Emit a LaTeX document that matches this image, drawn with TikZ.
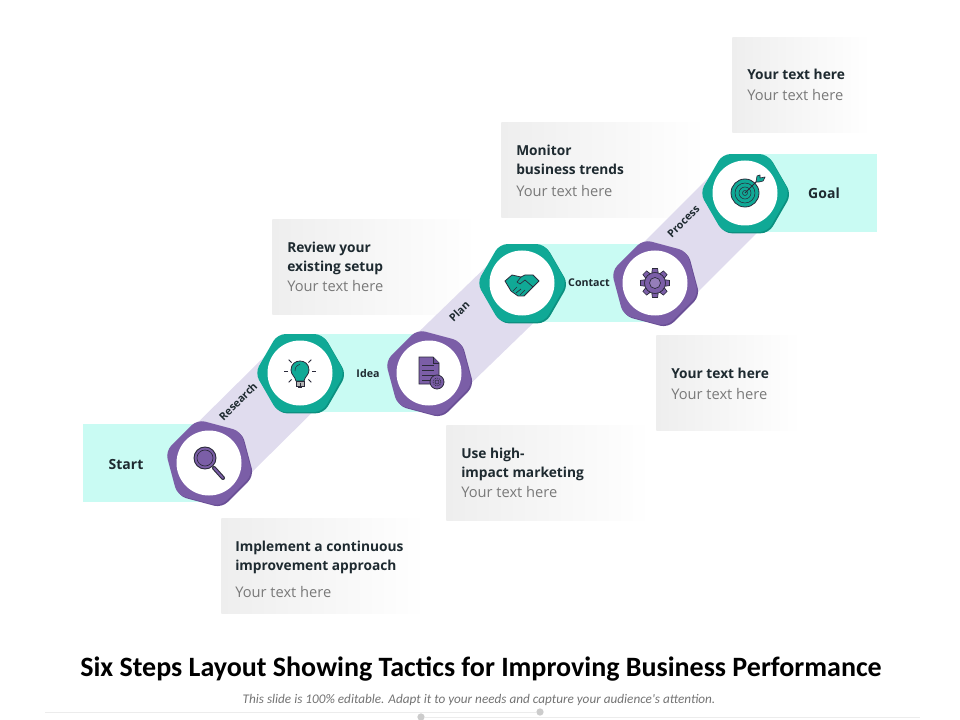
\documentclass[tikz,border=0pt]{standalone}
\usepackage{fontspec}
\setmainfont{Open Sans}
\newfontfamily\titlefont{Carlito}
\usetikzlibrary{shapes.geometric, shadows, backgrounds}
\definecolor{bandcyan}{HTML}{C9FBF3}
\definecolor{lilac}{HTML}{E0DCEE}
\definecolor{stepteal}{HTML}{10A996}
\definecolor{tealdark}{HTML}{0C9080}
\definecolor{steppurple}{HTML}{7B5EA7}
\definecolor{purpledark}{HTML}{6A4F96}
\definecolor{ink}{HTML}{1E2A30}
\definecolor{notegray}{HTML}{EEEEEE}
\definecolor{iconline}{HTML}{2B2A3A}
\tikzset{
    lens/.pic={
      \draw[iconline, line width=3pt, line cap=round] (5,5) -- (14,15);
      \draw[steppurple, line width=1.4pt, line cap=round] (5,5) -- (14,15);
      \draw[iconline, fill=steppurple, line width=.7pt] (-4,-5) circle (11);
      \draw[iconline, line width=.5pt] (-4,-5) circle (8);
    },
    bulb/.pic={
      \draw[iconline, fill=stepteal, line width=.6pt] (-4,8) .. controls (-5,3) and (-9,2) .. (-9,-3) .. controls (-9,-15) and (9,-15) .. (9,-3) .. controls (9,2) and (5,3) .. (4,8) -- cycle;
      \draw[iconline, fill=gray!60, line width=.5pt] (-4,8) rectangle (4,13);
      \fill[iconline] (-2,13) rectangle (2,15);
      \draw[iconline, line width=.4pt] (-5,-2) .. controls (-5,-6) and (-3,-8) .. (0,-9);
      \foreach \a in {0,45,90,135,180,225,315}
        \draw[iconline, line width=.6pt] (\a:12) ++(0,-2) -- ++(\a:4);
    },
    report/.pic={
      \draw[iconline, fill=steppurple, line width=.6pt] (-10,-16) -- (4,-16) -- (10,-10) -- (10,11) -- (-10,11) -- cycle;
      \draw[iconline, fill=purpledark, line width=.4pt] (4,-16) -- (4,-10) -- (10,-10);
      \foreach \y in {-8,-3,2,7}
        \draw[iconline, line width=.5pt] (-7,\y) -- (5,\y);
      \draw[iconline, fill=steppurple, line width=.6pt] (8,9) circle (7);
      \draw[iconline, line width=.4pt, dash pattern=on 1pt off .7pt] (8,9) circle (4);
      \draw[iconline, line width=.4pt] (8,9) circle (2);
    },
    shake/.pic={
      \draw[iconline, fill=stepteal, line width=.6pt, line join=round] (-17,-2) -- (-10,-8) -- (-1,-6) -- (3,-8) -- (11,-8) -- (17,-2) -- (11,4) -- (2,13) -- (-4,13) -- (-11,8) -- cycle;
      \draw[iconline, line width=.5pt, line join=round] (-1,-6) -- (-5,-1) -- (-2,1) -- (3,-3) -- (11,4);
      \draw[iconline, line width=.5pt] (-2,12) -- (3,7) (-6,10) -- (-1,6) (-9,8) -- (-5,4) (2,13) -- (7,8);
    },
    cog/.pic={
      \foreach \a in {0,45,...,315}
        \draw[iconline, fill=steppurple, line width=.5pt, rotate=\a] (10,-3.2) -- (14.5,-2.6) -- (14.5,2.6) -- (10,3.2) -- cycle;
      \draw[iconline, fill=steppurple, line width=.5pt] (0,0) circle (10.5);
      \draw[iconline, fill=steppurple!80, line width=.5pt] (0,0) circle (5.5);
    },
    bullseye/.pic={
      \draw[iconline, fill=stepteal, line width=.6pt] (0,0) circle (14);
      \draw[iconline, line width=.4pt] (0,0) circle (10);
      \draw[iconline, line width=.4pt] (0,0) circle (6);
      \draw[iconline, line width=.4pt] (0,0) circle (2.5);
      \draw[iconline, line width=.6pt] (0,0) -- (12,-12);
      \draw[iconline, fill=stepteal, line width=.5pt, line join=round] (11,-11) -- (12,-17) -- (15,-18) -- (15,-15) -- (20,-16) -- (18,-12) -- (14,-11) -- cycle;
    }
}
\begin{document}
\begin{tikzpicture}[x=0.75pt, y=-0.75pt,
    hexteal/.style={regular polygon, regular polygon sides=6, minimum size=67.5pt, inner sep=0, rounded corners=6pt, fill=stepteal, general shadow={shadow xshift=1pt, shadow yshift=-1pt, fill=tealdark}},
    hexpurple/.style={regular polygon, regular polygon sides=6, shape border rotate=-15, minimum size=67.5pt, inner sep=0, rounded corners=6pt, fill=steppurple, general shadow={shadow xshift=1pt, shadow yshift=-1pt, fill=purpledark}},
    disc/.style={circle, fill=white, minimum size=48.75pt, inner sep=0},
    band/.style={fill=bandcyan, anchor=west, minimum height=58.5pt, inner sep=0},
    climb/.style={lilac, line width=55pt},
    notebox/.style={anchor=north west, inner sep=0, minimum height=71.25pt, left color=notegray, right color=white},
    notehead/.style={anchor=west, inner sep=0, align=left, font=\fontsize{10.3}{14.2}\selectfont\bfseries, text=ink},
    notetext/.style={anchor=west, inner sep=0, font=\fontsize{11}{13}\selectfont, text=gray!95!black},
    steplabel/.style={inner sep=0, text=ink, font=\fontsize{10.5}{13}\selectfont\bfseries},
    smalllabel/.style={inner sep=0, text=ink, font=\fontsize{8}{10}\selectfont\bfseries},
    climblabel/.style={midway, sloped, inner sep=0, yshift=17.5pt, text=ink, font=\fontsize{8}{10}\selectfont\bfseries},
    footline/.style={gray!15, line width=.6pt},
    footdot/.style={circle, fill=gray!40, minimum size=5.5pt, inner sep=0}]
        \useasboundingbox (0,0) rectangle (960,720);

        % six stops
        \node[hexpurple] (start) at (209,463) {};
        \node[hexteal] (idea) at (300,373) {};
        \node[hexpurple] (plan) at (429,373) {};
        \node[hexteal] (contact) at (522,283) {};
        \node[hexpurple] (process) at (655,283) {};
        \node[hexteal] (goal) at (745,193) {};

        \begin{pgfonlayer}{background}
            \node[notebox, minimum width=153pt] (note1) at (221,518) {};
            \node[notebox, minimum width=153pt] (note2) at (446,425) {};
            \node[notebox, minimum width=108pt] (note3) at (656,335) {};
            \node[notebox, minimum width=153pt] (note4) at (272,219) {};
            \node[notebox, minimum width=153pt] (note5) at (501,122) {};
            \node[notebox, minimum width=104pt] (note6) at (732,37) {};

            \node[band, minimum width=99pt] (startband) at (83,463) {};
            \node[band, minimum width=97.5pt] (ideaband) at (300,373) {};
            \node[band, minimum width=99.75pt] (contactband) at (522,283) {};
            \node[band, minimum width=99pt] (goalband) at (745,193) {};

            \draw[climb] (start.center) -- (idea.center) node[climblabel] {Research};
            \draw[climb] (plan.center) -- (contact.center) node[climblabel] {Plan};
            \draw[climb] (process.center) -- (goal.center) node[climblabel] {Process};
        \end{pgfonlayer}

        \node[disc] (startdisc) at (start) {};
        \node[disc] (ideadisc) at (idea) {};
        \node[disc] (plandisc) at (plan) {};
        \node[disc] (contactdisc) at (contact) {};
        \node[disc] (processdisc) at (process) {};
        \node[disc] (goaldisc) at (goal) {};

        \pic at (start) {lens};
        \pic at (idea) {bulb};
        \pic at (plan) {report};
        \pic at (contact) {shake};
        \pic at (process) {cog};
        \pic at (goal) {bullseye};

        \node[steplabel] (startname) at (126,464) {Start};
        \node[smalllabel] (ideaname) at (368,373) {Idea};
        \node[smalllabel] (contactname) at (589,283) {Contact};
        \node[steplabel] (goalname) at (824,193) {Goal};

        \node[notehead] (head1) at (235,557.5) {Implement a continuous\\improvement approach};
        \node[notetext] (text1) at (235,592) {Your text here};
        \node[notehead] (head2) at (461,464.5) {Use high-\\impact marketing};
        \node[notetext] (text2) at (461,492) {Your text here};
        \node[notehead] (head3) at (671,373) {Your text here};
        \node[notetext] (text3) at (671,394) {Your text here};
        \node[notehead] (head4) at (287,258.5) {Review your\\existing setup};
        \node[notetext] (text4) at (287,286) {Your text here};
        \node[notehead] (head5) at (516,160) {Monitor\\business trends};
        \node[notetext] (text5) at (516,191) {Your text here};
        \node[notehead] (head6) at (747,74) {Your text here};
        \node[notetext] (text6) at (747,95) {Your text here};

        \node[inner sep=0, font=\titlefont\fontsize{21}{25}\selectfont\bfseries, text=black] (title) at (481,669) {Six Steps Layout Showing Tactics for Improving Business Performance};
        \node[inner sep=0, font=\titlefont\fontsize{9.9}{12}\selectfont\itshape, text=gray!90!black] (subtitle) at (479,700) {This slide is 100\% editable. Adapt it to your needs and capture your audience's attention.};

        % footer rules
        \node[footdot] (dotright) at (540,712) {};
        \node[footdot] (dotleft) at (421,717) {};
        \coordinate (ruleleft) at (45,712);
        \coordinate (ruleright) at (920,717);
        \draw[footline] (ruleleft) -- (dotright);
        \draw[footline] (dotleft) -- (ruleright);
    \end{tikzpicture}
\end{document}
